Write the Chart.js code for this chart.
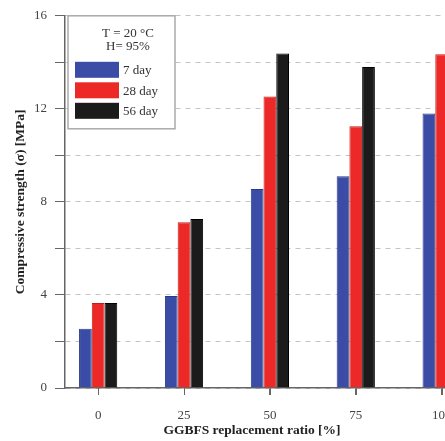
<!DOCTYPE html>
<html>
<head>
<meta charset="utf-8">
<script src="https://cdn.jsdelivr.net/npm/chart.js@4/dist/chart.umd.min.js"></script>
<style>
  html, body { margin: 0; padding: 0; background: #fff; }
  #frame { width: 445px; height: 441px; overflow: hidden; position: relative; }
  #box { width: 476px; height: 441px; position: absolute; left: 0; top: 0; }
</style>
</head>
<body>
<div id="frame"><div id="box"><canvas id="chart"></canvas></div></div>
<script>
// replacement ratio (%) on the x axis
const ratios = [0, 25, 50, 75, 100];
// compressive strength in MPa
const day7 = [2.55, 3.95, 8.55, 9.1, 11.8];
const day28 = [3.65, 7.12, 12.53, 11.25, 14.35];
const day56 = [3.65, 7.27, 14.38, 13.8, null];
const seriesNames = ['7 day', '28 day', '56 day'];
const yTicks = [0, 2, 4, 6, 8, 10, 12, 14, 16];
const legendTitle = ['T = 20 \u00B0C', 'H= 95%'];

const colors = ['#3a4ca6', '#ec2926', '#1b1b1b'];
const edges = ['#2b3a88', '#c01d1a', '#000'];

function points(values) {
  return values.map((v, i) => ({ x: ratios[i], y: v }));
}

Chart.defaults.font.family = '"Liberation Serif", "DejaVu Serif", serif';
Chart.defaults.font.size = 13;
Chart.defaults.color = '#444';

// legend box inside the plot, x tick marks and the x axis title
const extras = {
  id: 'extras',
  afterDraw(chart) {
    const ctx = chart.ctx;
    const area = chart.chartArea;
    const xs = chart.scales.x;
    ctx.save();

    ctx.strokeStyle = '#666';
    ctx.lineWidth = 1;
    ratios.forEach(v => {
      const px = Math.round(xs.getPixelForValue(v)) + 0.5;
      ctx.beginPath();
      ctx.moveTo(px, area.bottom);
      ctx.lineTo(px, area.bottom + 7);
      ctx.stroke();
    });

    const left = area.left + 3;
    const top = area.top;
    ctx.fillStyle = '#fff';
    ctx.fillRect(left, top, 107, 113);
    ctx.strokeStyle = '#aaa';
    ctx.lineWidth = 1.5;
    ctx.strokeRect(left, top, 107, 113);

    ctx.fillStyle = '#333';
    ctx.font = '13px "Liberation Serif", serif';
    ctx.textAlign = 'center';
    ctx.textBaseline = 'middle';
    ctx.fillText(legendTitle[0], left + 60, top + 18);
    ctx.fillText(legendTitle[1], left + 60, top + 31);

    ctx.textAlign = 'left';
    seriesNames.forEach((name, i) => {
      const y = top + 46 + i * 20.5;
      ctx.fillStyle = colors[i];
      ctx.fillRect(left + 7, y, 44, 16);
      ctx.fillStyle = '#333';
      ctx.fillText(name, left + 55, y + 9);
    });

    ctx.font = 'bold 13.5px "Liberation Serif", serif';
    ctx.fillStyle = '#222';
    ctx.textAlign = 'center';
    ctx.fillText('GGBFS replacement ratio [%]', 252, 431);
    ctx.restore();
  }
};

new Chart(document.getElementById('chart'), {
  type: 'bar',
  data: {
    datasets: [
      { label: seriesNames[0], data: points(day7), backgroundColor: colors[0], borderColor: edges[0], borderWidth: 1 },
      { label: seriesNames[1], data: points(day28), backgroundColor: colors[1], borderColor: edges[1], borderWidth: 1 },
      { label: seriesNames[2], data: points(day56), backgroundColor: colors[2], borderColor: edges[2], borderWidth: 1 }
    ]
  },
  options: {
    responsive: true,
    maintainAspectRatio: false,
    animation: false,
    layout: { padding: { top: 15, left: 0, right: 0, bottom: 0 } },
    datasets: { bar: { categoryPercentage: 0.445, barPercentage: 1 } },
    plugins: { legend: { display: false }, tooltip: { enabled: false } },
    scales: {
      x: {
        type: 'linear',
        offset: false,
        min: -9.65,
        max: 110,
        afterBuildTicks: s => { s.ticks = ratios.map(v => ({ value: v })); },
        afterFit: s => { s.height = 53; },
        grid: { offset: false, drawOnChartArea: false, drawTicks: true, tickLength: 7, tickColor: '#666' },
        border: { color: '#666', width: 1.5 },
        ticks: { padding: 13, color: '#444' }
      },
      y: {
        min: 0,
        max: 16,
        afterBuildTicks: s => { s.ticks = yTicks.map(v => ({ value: v })); },
        afterFit: s => { s.width = 65; },
        grid: { color: '#c4c4c4', tickColor: '#666', tickLength: 10, lineWidth: 1 },
        border: { color: '#666', width: 1.5, dash: [5, 5] },
        ticks: { padding: 8, color: '#444', callback: v => (v % 4 === 0 ? v : '') },
        title: {
          display: true,
          text: 'Compressive strength (\u03C3) [MPa]',
          font: { weight: 'bold', size: 13.5 },
          color: '#222',
          padding: { top: 12, bottom: 0 }
        }
      }
    }
  },
  plugins: [extras]
});
</script>
</body>
</html>
